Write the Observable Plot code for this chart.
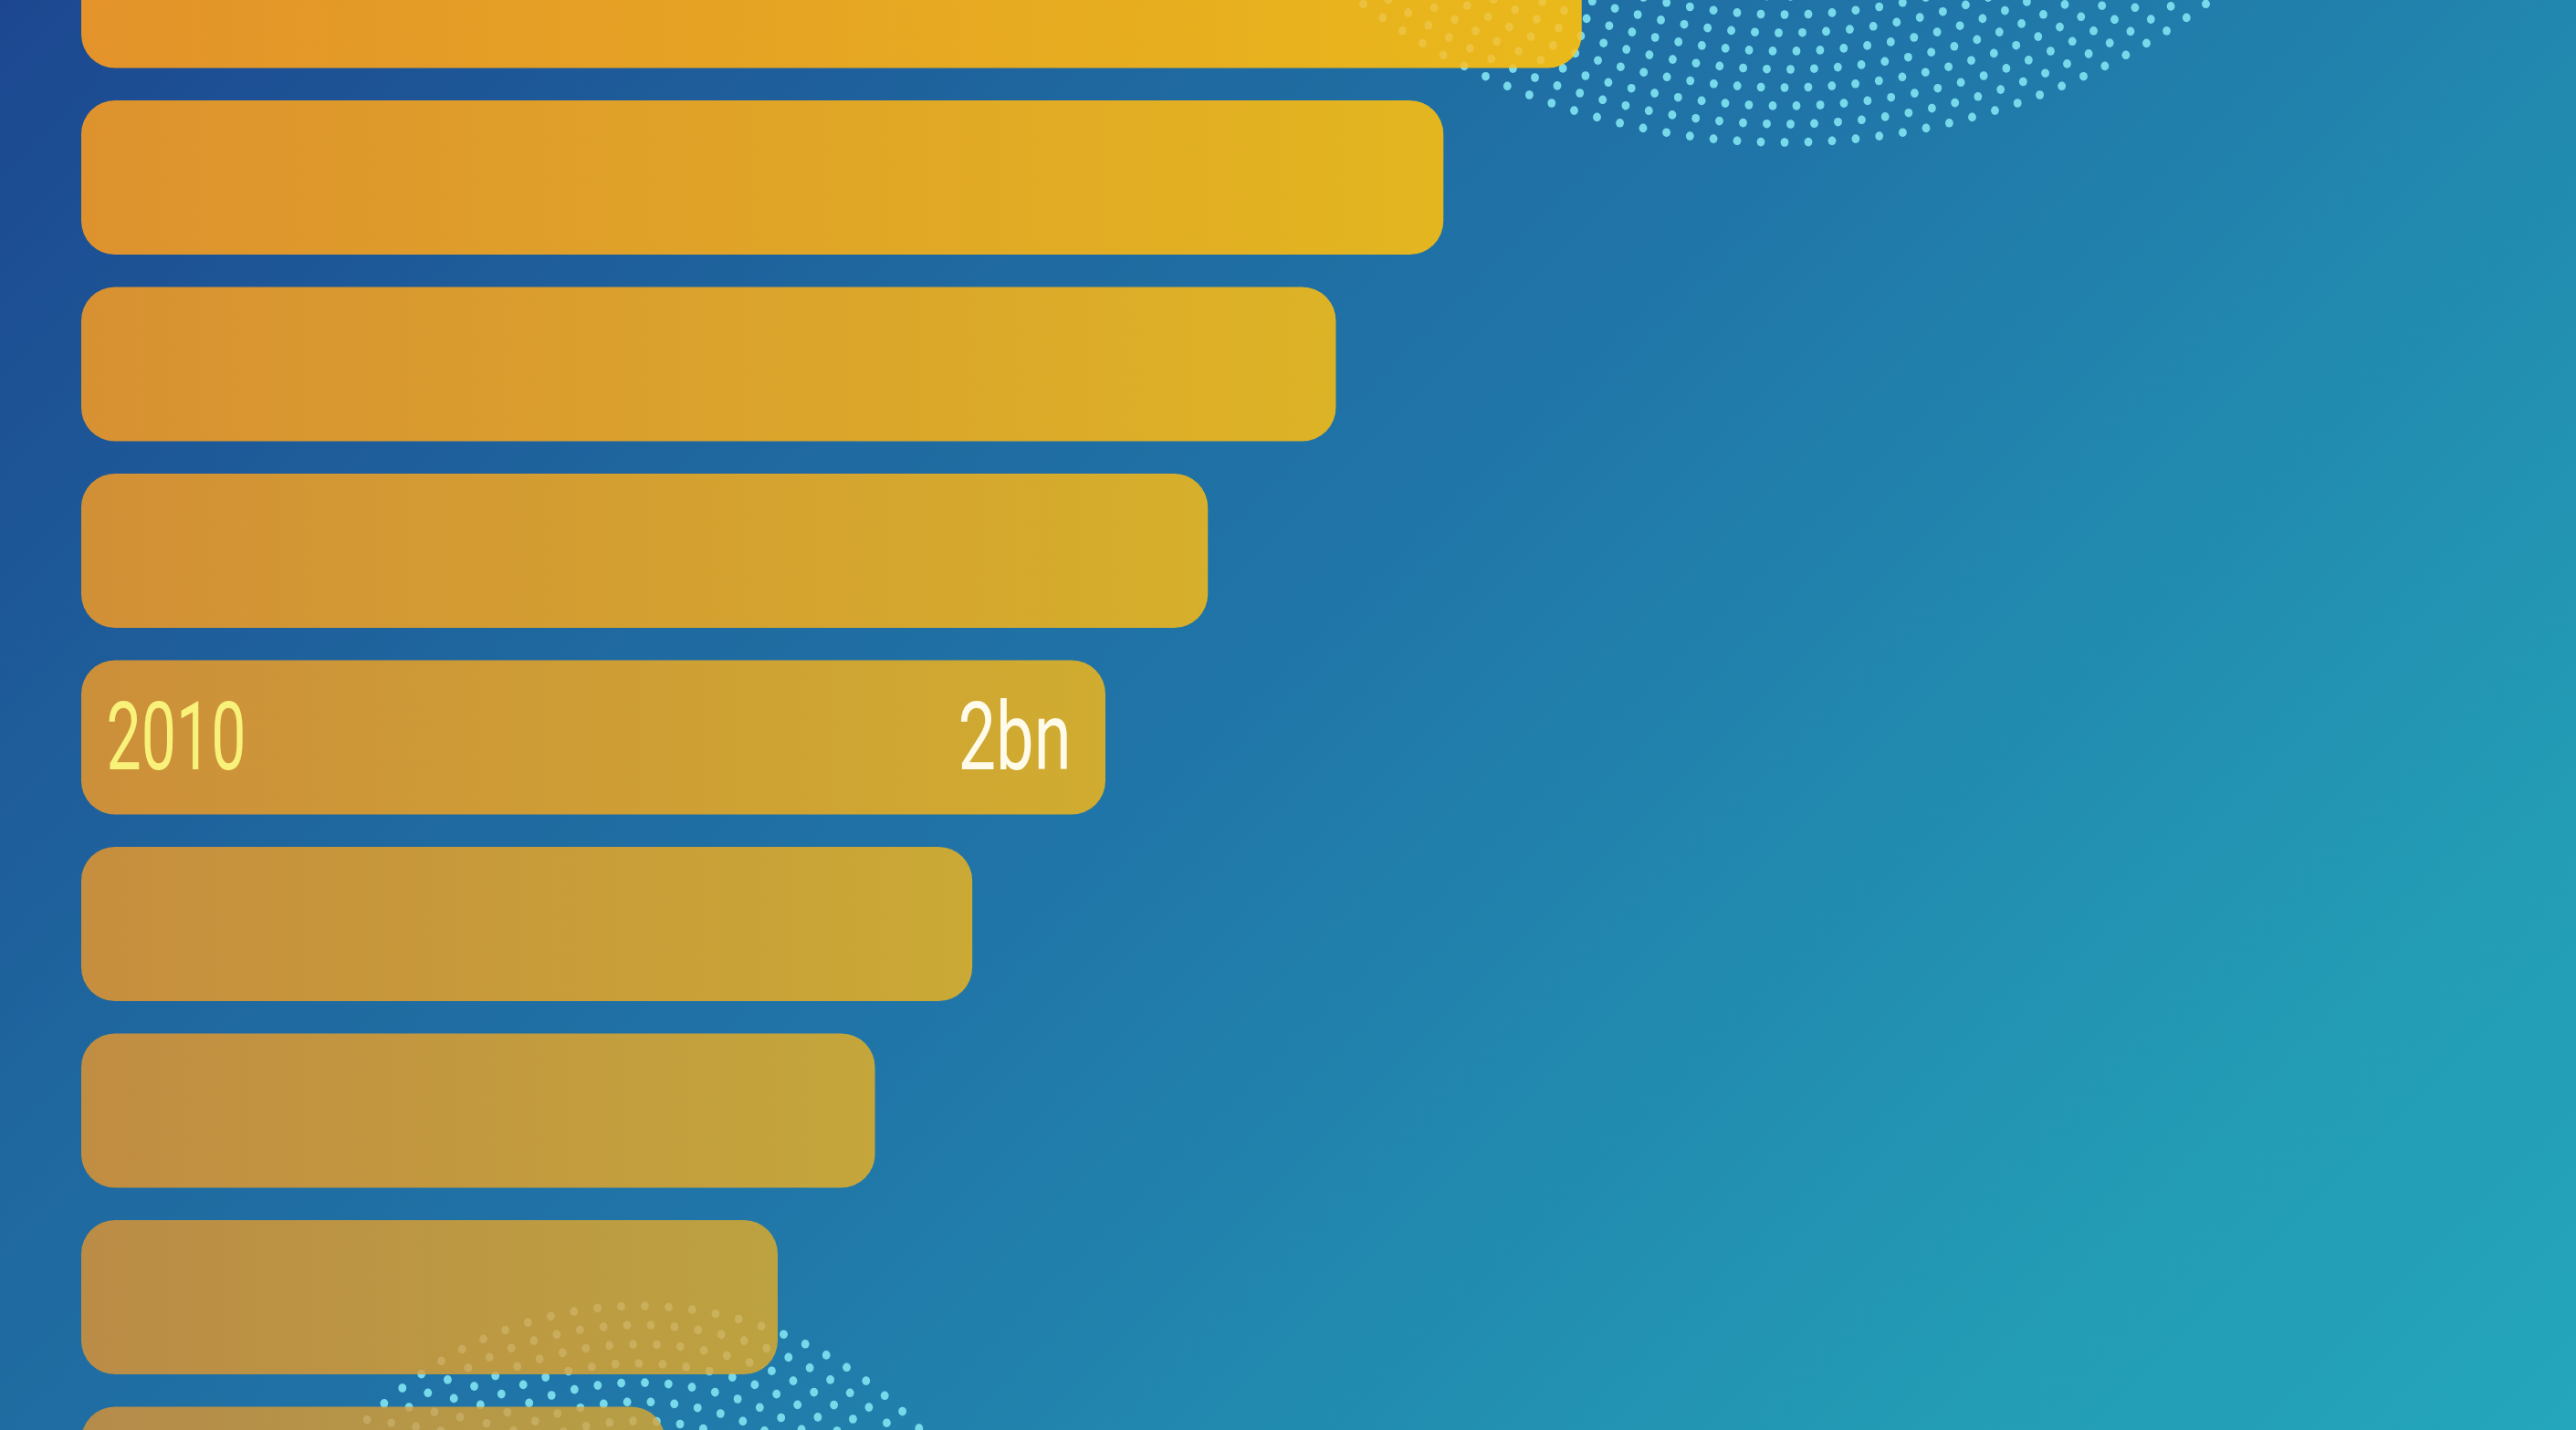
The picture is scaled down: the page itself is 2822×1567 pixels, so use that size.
<!DOCTYPE html>
<html>
<head>
<meta charset="utf-8">
<script src="https://cdn.jsdelivr.net/npm/d3@7"></script>
<script src="https://cdn.jsdelivr.net/npm/@observablehq/plot@0.6"></script>
<style>
  html, body { margin: 0; padding: 0; overflow: hidden; background: #1f6aa0; }
  #chart svg { display: block; }
</style>
</head>
<body>
<div id="chart"></div>
<script>
// ---- Data (world internet users, billions) ----
const years = [2014, 2013, 2012, 2011, 2010, 2009, 2008, 2007, 2006];
const users = [2.93, 2.66, 2.45, 2.20, 2.00, 1.74, 1.55, 1.36, 1.14];
const labelYears = [2010];
const labelValues = ["2bn"];

const data = years.map((year, i) => ({year, users: users[i], i}));
const labelled = data.filter(d => labelYears.includes(d.year))
  .map(d => ({...d, valueText: labelValues[labelYears.indexOf(d.year)]}));

// ---- Styling ----
const W = 2822, H = 1567;
const leftTop = "#e3932a", leftBottom = "#b58b4a";
const rightTop = "#e9b91b", rightBottom = "#b79f45";
const n = years.length;

// decorative halftone discs (ornament only, not data)
function ringDots(cx, cy, R, radial, arc) {
  const pts = [];
  for (let k = 0, r = R; r > radial / 2; k++, r -= radial) {
    const m = Math.max(1, Math.round(2 * Math.PI * r / arc));
    const off = (k % 2) * Math.PI / m;
    for (let j = 0; j < m; j++) {
      const a = off + 2 * Math.PI * j / m;
      pts.push([cx + r * Math.cos(a), cy + r * Math.sin(a)]);
    }
  }
  return pts.filter(([x, y]) => x > -10 && x < W + 10 && y > -10 && y < H + 10);
}
const decoDots = [
  ...ringDots(1955, -622, 778, 20, 26),
  ...ringDots(700, 1849, 418, 21, 26)
];

const dotLayer = (fill, opacity) => () => {
  const g = d3.create("svg:g").attr("fill", fill).attr("fill-opacity", opacity);
  for (const [x, y] of decoDots) g.append("ellipse").attr("cx", x.toFixed(1)).attr("cy", y.toFixed(1)).attr("rx", 4.4).attr("ry", 4.8);
  return g.node();
};

const gradientDefs = () => {
  const defs = d3.create("svg:defs");
  data.forEach(d => {
    const t = d.i / (n - 1);
    const lg = defs.append("linearGradient").attr("id", `barg-${d.year}`)
      .attr("x1", 0).attr("x2", 1).attr("y1", 0).attr("y2", 0);
    lg.append("stop").attr("offset", "0%").attr("stop-color", d3.interpolateRgb(leftTop, leftBottom)(t));
    lg.append("stop").attr("offset", "100%").attr("stop-color", d3.interpolateRgb(rightTop, rightBottom)(t));
  });
  return defs.node();
};

const fontFamily = "'Roboto', 'Liberation Sans', sans-serif";

const chart = Plot.plot({
  width: W,
  height: H,
  marginTop: 0, marginRight: 0, marginBottom: 0, marginLeft: 0,
  style: {
    background: "linear-gradient(135deg, #1c4790 0%, #1f6aa0 32%, #2075a8 48%, #239bb5 83%, #24a6bc 100%)",
    overflow: "hidden"
  },
  x: {domain: [0, 4], range: [89, 89 + 4 * 561], axis: null},
  y: {domain: years, range: [-94.5, 1710.5], paddingInner: 0.1736, paddingOuter: 0, round: false, axis: null},
  color: {type: "identity"},
  marks: [
    gradientDefs,
    dotLayer("#55d3f3", 1),
    Plot.barX(data, {x: "users", y: "year", fill: d => `url(#barg-${d.year})`, rx: 37, ry: 37}),
    dotLayer("#fff4c8", 0.2),
    Plot.text(labelled, {
      x: 0, y: "year", text: d => String(d.year), textAnchor: "start", lineAnchor: "bottom",
      dx: 27, dy: 34, fill: "#f8f27a", fontSize: 104, fontWeight: 400, fontFamily
    }),
    Plot.text(labelled, {
      x: "users", y: "year", text: "valueText", textAnchor: "end", lineAnchor: "bottom",
      dx: -38, dy: 34, fill: "#fffbea", fontSize: 104, fontWeight: 400, fontFamily
    })
  ]
});

// condense the label glyphs like the reference's narrow typeface
d3.select(chart).selectAll("text").each(function() {
  const t = this.textContent.trim();
  if (labelYears.map(String).includes(t)) d3.select(this).attr("textLength", 153).attr("lengthAdjust", "spacingAndGlyphs");
  if (labelValues.includes(t)) d3.select(this).attr("textLength", 124).attr("lengthAdjust", "spacingAndGlyphs");
});

document.getElementById("chart").appendChild(chart);
</script>
</body>
</html>
